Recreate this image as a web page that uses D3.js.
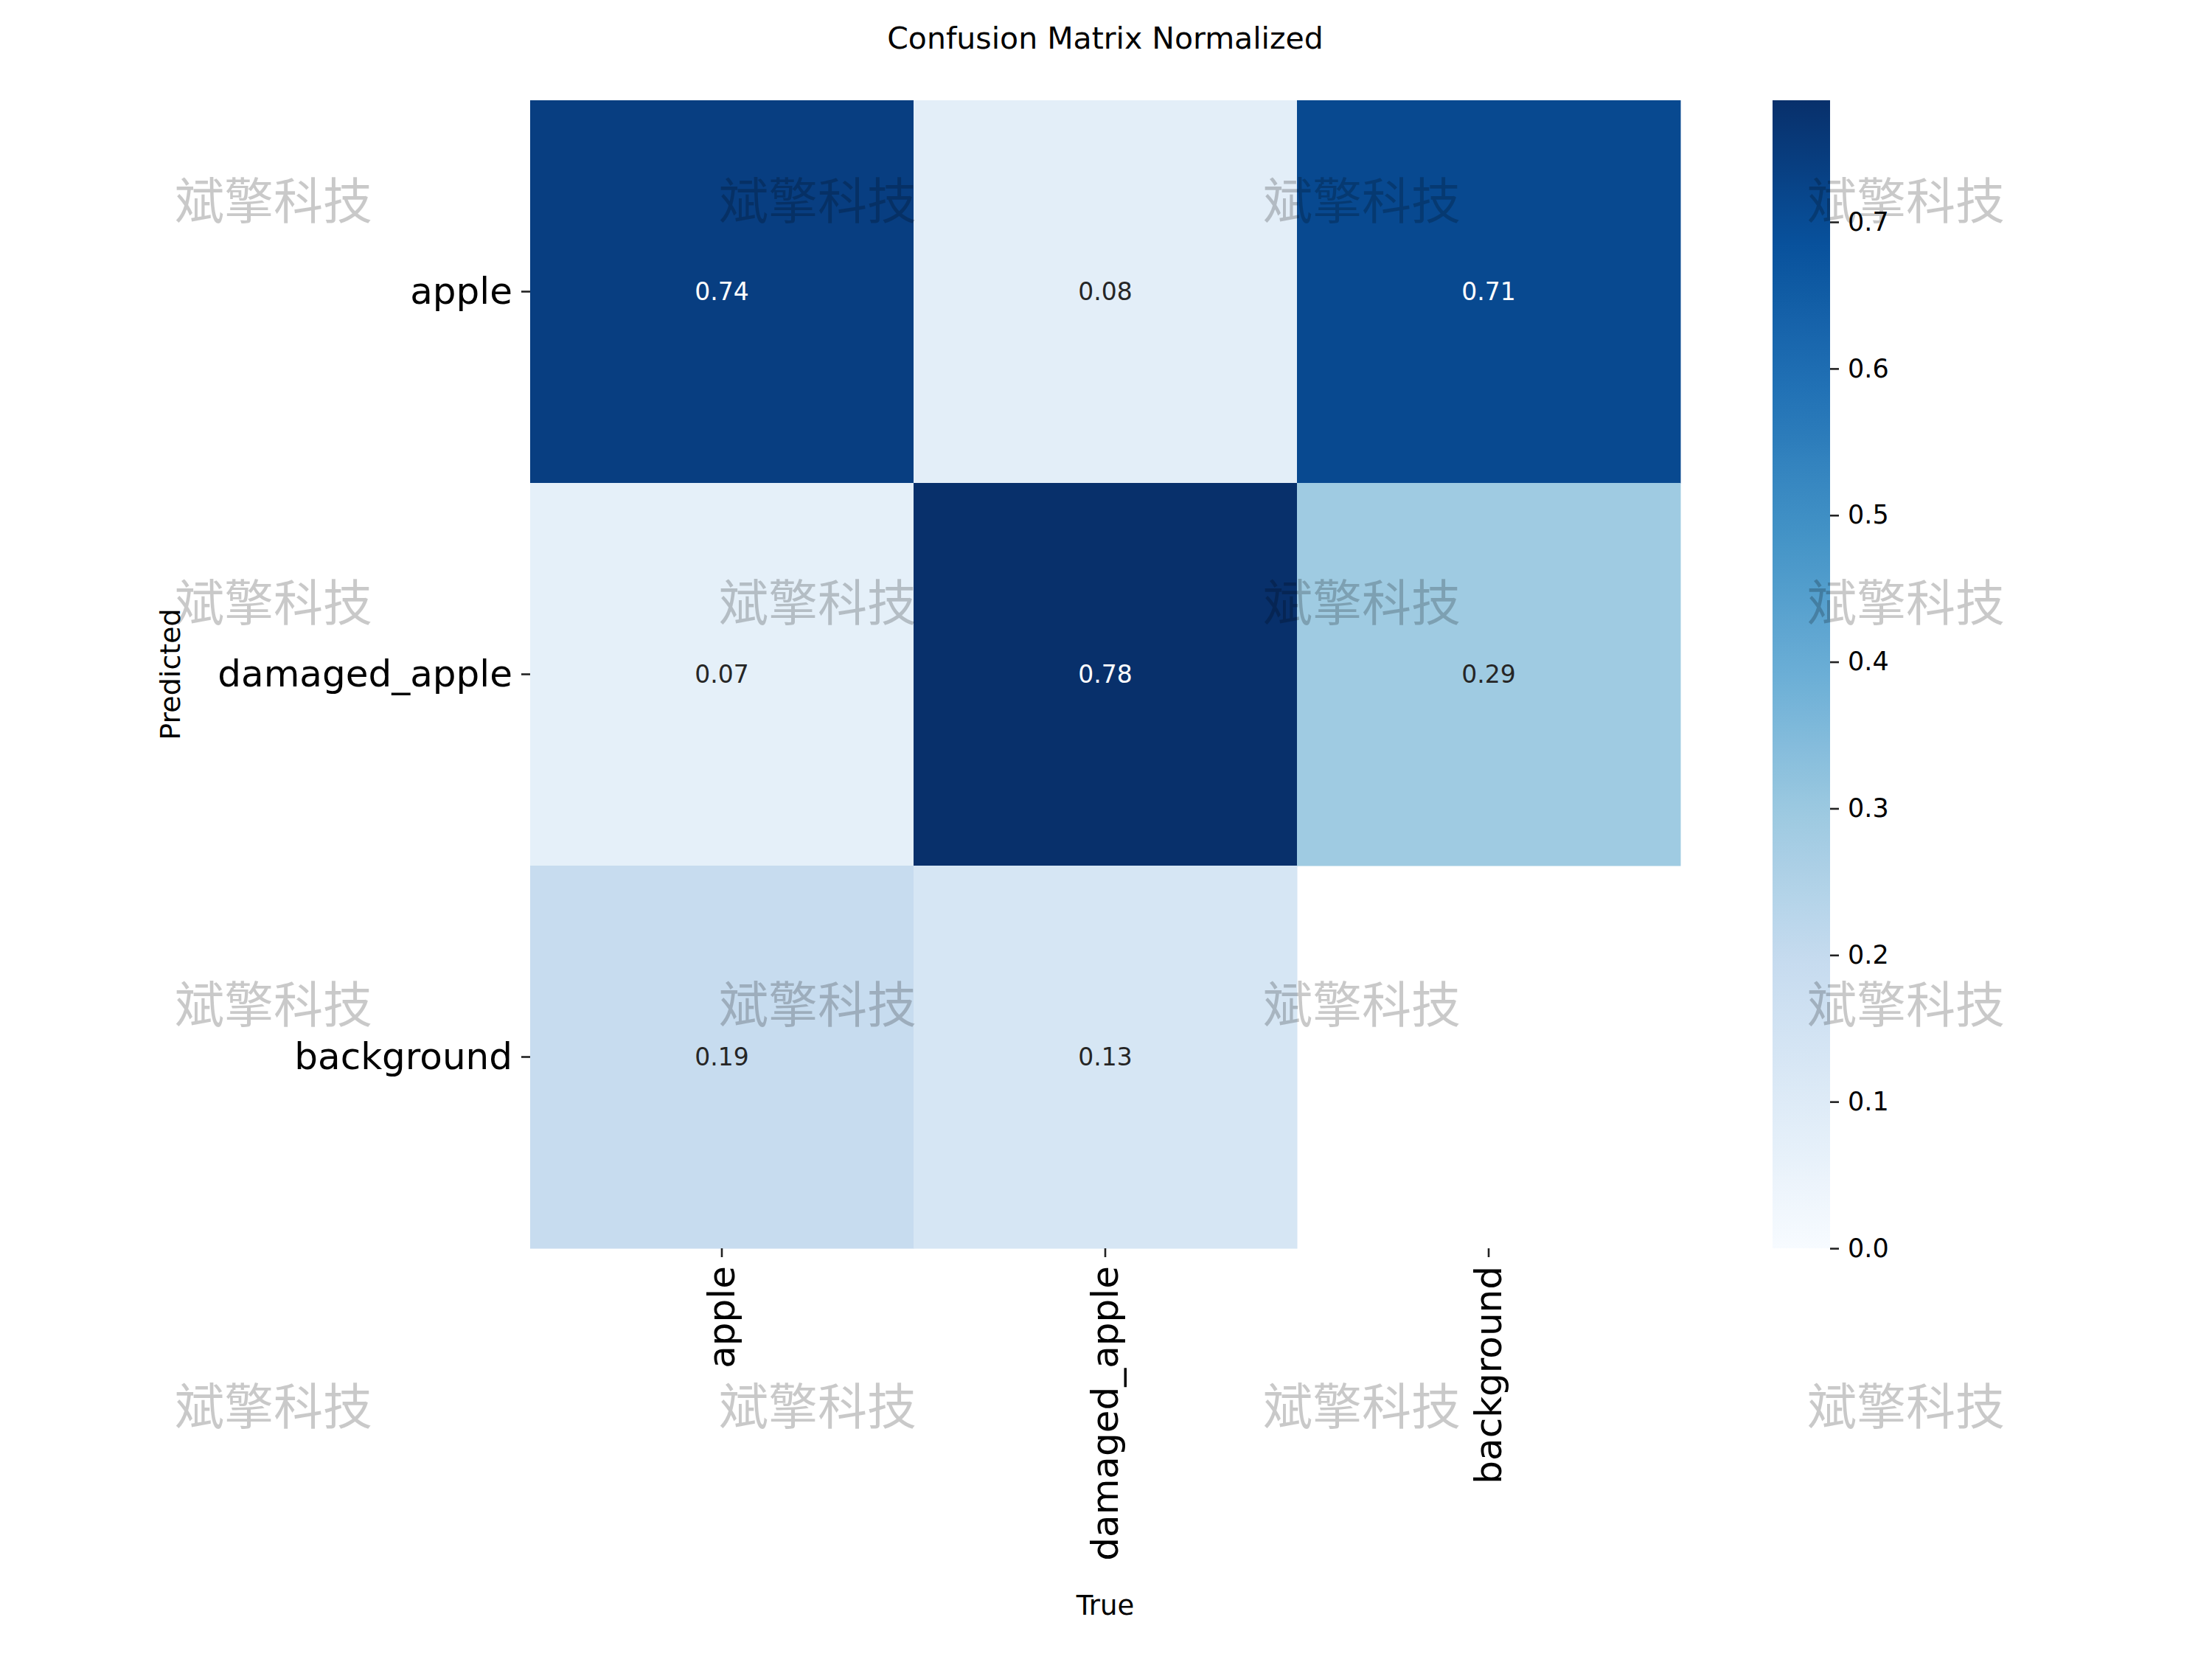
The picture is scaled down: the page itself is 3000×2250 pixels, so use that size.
<!DOCTYPE html>
<html lang="en">
<head>
  <meta charset="UTF-8" />
  <title>Confusion Matrix Normalized</title>
  <script src="https://d3js.org/d3.v7.min.js"></script>
  <style>
    body { margin: 0; background: white; }
    svg { display: block; font-family: "DejaVu Sans", sans-serif; }
    .tick line { stroke: #222; stroke-width: 2.6; }
    .tick text { fill: #000; }
  </style>
</head>
<body>
<svg width="3000" height="2250"></svg>
<script>
// columns are the true class, rows the predicted class
const trueLabels = ["apple", "damaged_apple", "background"];
const predLabels = ["apple", "damaged_apple", "background"];
const matrix = [
  [0.74, 0.08, 0.71],
  [0.07, 0.783, 0.29], // printed 0.78, colorbar top sits a bit above it
  [0.19, 0.13, null]   // background/background is blank
];
const cbarTicks = [0.0, 0.1, 0.2, 0.3, 0.4, 0.5, 0.6, 0.7];
const watermarkText = "斌擎科技";

// matplotlib "Blues" anchor colours
const blues = ["#f7fbff", "#deebf7", "#c6dbef", "#9ecae1", "#6baed6", "#4292c6", "#2171b5", "#08519c", "#08306b"];

const svg = d3.select("svg");
const plot = { left: 719, right: 2279, top: 136, bottom: 1693 };
const cbar = { left: 2404, right: 2482 };
const font = "'DejaVu Sans', sans-serif";

const vmax = d3.max(matrix.flat().filter(v => v != null));
const color = d3.scaleLinear()
  .domain(blues.map((_, i) => vmax * i / (blues.length - 1)))
  .range(blues)
  .interpolate(d3.interpolateRgb);

const x = d3.scaleBand().domain(trueLabels).range([plot.left, plot.right]).padding(0);
const y = d3.scaleBand().domain(predLabels).range([plot.top, plot.bottom]).padding(0);

function luminance(c) {
  const rgb = d3.rgb(c);
  const lin = v => { v /= 255; return v <= 0.03928 ? v / 12.92 : Math.pow((v + 0.055) / 1.055, 2.4); };
  return 0.2126 * lin(rgb.r) + 0.7152 * lin(rgb.g) + 0.0722 * lin(rgb.b);
}

const cells = [];
matrix.forEach((row, i) => row.forEach((v, j) => {
  if (v != null) cells.push({ pred: predLabels[i], tru: trueLabels[j], v });
}));

svg.append("g").selectAll("rect")
  .data(cells).join("rect")
  .attr("x", d => x(d.tru))
  .attr("y", d => y(d.pred))
  .attr("width", x.bandwidth() + 0.5)
  .attr("height", y.bandwidth() + 0.5)
  .attr("fill", d => color(d.v));

svg.append("g").selectAll("text")
  .data(cells).join("text")
  .attr("x", d => x(d.tru) + x.bandwidth() / 2)
  .attr("y", d => y(d.pred) + y.bandwidth() / 2)
  .attr("text-anchor", "middle")
  .attr("dominant-baseline", "central")
  .attr("font-size", 33)
  .attr("fill", d => luminance(color(d.v)) < 0.408 ? "#fff" : "#262626")
  .text(d => d.v.toFixed(2));

// axes
const yAxis = svg.append("g")
  .attr("transform", `translate(${plot.left},0)`)
  .call(d3.axisLeft(y).tickSize(12).tickPadding(12))
  .attr("font-family", font);
yAxis.select(".domain").remove();
yAxis.selectAll(".tick text").attr("font-size", 50);

const xAxis = svg.append("g")
  .attr("transform", `translate(0,${plot.bottom})`)
  .call(d3.axisBottom(x).tickSize(12).tickPadding(12))
  .attr("font-family", font);
xAxis.select(".domain").remove();
xAxis.selectAll(".tick text")
  .attr("font-size", 50)
  .attr("transform", "rotate(-90)")
  .attr("x", -24)
  .attr("y", 0)
  .attr("dy", null)
  .attr("text-anchor", "end")
  .attr("dominant-baseline", "central");

// colorbar
const cy = d3.scaleLinear().domain([0, vmax]).range([plot.bottom, plot.top]);
const grad = svg.append("defs").append("linearGradient")
  .attr("id", "cbar").attr("x1", 0).attr("y1", 1).attr("x2", 0).attr("y2", 0);
grad.selectAll("stop")
  .data(d3.range(0, 1.0001, 1 / 64)).join("stop")
  .attr("offset", t => t)
  .attr("stop-color", t => color(t * vmax));
svg.append("rect")
  .attr("x", cbar.left).attr("y", plot.top)
  .attr("width", cbar.right - cbar.left).attr("height", plot.bottom - plot.top)
  .attr("fill", "url(#cbar)");
const cAxis = svg.append("g")
  .attr("transform", `translate(${cbar.right},0)`)
  .call(d3.axisRight(cy).tickValues(cbarTicks).tickFormat(d3.format(".1f")).tickSize(12).tickPadding(12))
  .attr("font-family", font);
cAxis.select(".domain").remove();
cAxis.selectAll(".tick text").attr("font-size", 35);

// titles
svg.append("text")
  .attr("x", 1499).attr("y", 52)
  .attr("text-anchor", "middle").attr("dominant-baseline", "central")
  .attr("font-size", 41)
  .text("Confusion Matrix Normalized");
svg.append("text")
  .attr("x", (plot.left + plot.right) / 2).attr("y", 2177)
  .attr("text-anchor", "middle").attr("dominant-baseline", "central")
  .attr("font-size", 37)
  .text("True");
svg.append("text")
  .attr("transform", `translate(231,${(plot.top + plot.bottom) / 2}) rotate(-90)`)
  .attr("text-anchor", "middle").attr("dominant-baseline", "central")
  .attr("font-size", 38)
  .text("Predicted");

// watermark grid on top of everything
const wm = svg.append("g")
  .attr("font-family", "'Noto Sans CJK SC', sans-serif")
  .attr("font-size", 67)
  .attr("fill", "#000")
  .attr("fill-opacity", 0.21);
for (let r = 0; r < 4; r++) {
  for (let c = 0; c < 4; c++) {
    wm.append("text")
      .attr("x", 237 + c * 738)
      .attr("y", 297 + r * 545)
      .text(watermarkText);
  }
}
</script>
</body>
</html>
